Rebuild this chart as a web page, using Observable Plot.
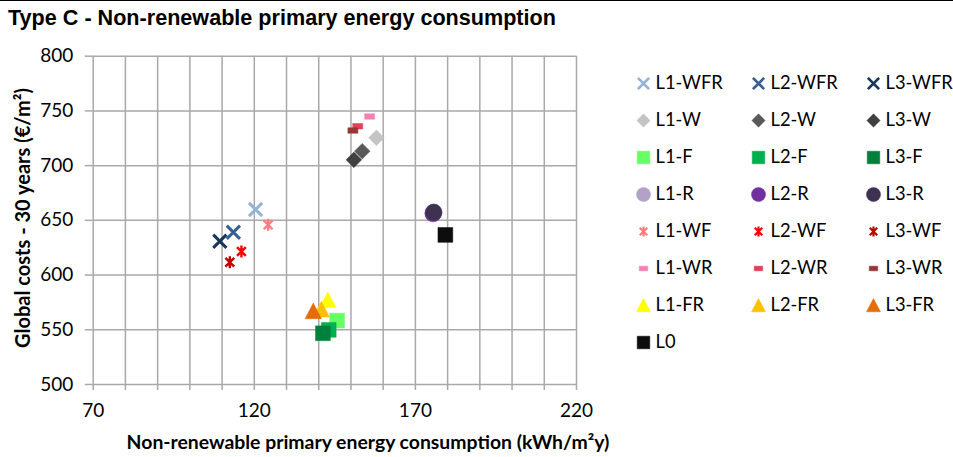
<!DOCTYPE html>
<html>
<head>
<meta charset="utf-8">
<script src="https://cdn.jsdelivr.net/npm/d3@7"></script>
<script src="https://cdn.jsdelivr.net/npm/@observablehq/plot@0.6"></script>
<style>
  html, body { margin: 0; padding: 0; background: #fff; }
  body { width: 953px; height: 457px; position: relative; overflow: hidden; font-family: Lato, "Noto Sans", sans-serif; }
  #topline { position: absolute; left: 0; top: 0; width: 953px; height: 1px; background: #000; }
  #title { position: absolute; left: 8px; top: 5px; font-family: "Liberation Sans", Arial, sans-serif; font-weight: bold; font-size: 21.6px; color: #000; white-space: nowrap; }
  #chart { position: absolute; left: 0; top: 32px; }
  #legend { position: absolute; left: 600px; top: 60px; }
  .axis-title { position: absolute; font-family: Lato, sans-serif; font-weight: bold; font-size: 19.4px; color: #000; white-space: nowrap; }
  #ytitle { left: 21.7px; top: 218px; transform: translate(-50%, -50%) rotate(-90deg); font-size: 20px; }
  #xtitle { left: 368px; top: 441px; transform: translate(-50%, -50%); }
</style>
</head>
<body>
<div id="topline"></div>
<div id="title">Type C - Non-renewable primary energy consumption</div>
<div id="chart"></div>
<div id="legend"></div>
<div id="ytitle" class="axis-title">Global costs - 30 years (€/m²)</div>
<div id="xtitle" class="axis-title">Non-renewable primary energy consumption (kWh/m²y)</div>
<script>
// ---- data ----
const seriesNames = ["L1-WFR","L2-WFR","L3-WFR","L1-W","L2-W","L3-W","L1-F","L2-F","L3-F","L1-R","L2-R","L3-R","L1-WF","L2-WF","L3-WF","L1-WR","L2-WR","L3-WR","L1-FR","L2-FR","L3-FR","L0"];
const energy = [120.4,113.5,109.3, 157.9,153.5,150.9, 145.7,143.1,141.3, 175.6,175.5,175.7, 124.3,116.0,112.4, 155.8,152.1,150.6, 142.8,140.8,138.3, 179.3];
const globalCost = [659.9,639.1,630.9, 725.4,713.2,705.3, 558.4,549.9,546.8, 657.0,656.2,657.4, 645.9,621.5,611.7, 744.9,736.0,732.1, 577.1,568.5,566.9, 636.7];
const seriesColors = ["#95B3D7","#376092","#17375E", "#C4C4C4","#595959","#404040", "#66FF66","#00B050","#00803C", "#B3A2C7","#7030A0","#3F3151", "#FF7C80","#FF0000","#C00000", "#F282B0","#E0405A","#953735", "#FFFF00","#FFC000","#E46C0A", "#0D0D0D"];
const seriesShapes = ["times","times","times","diamond","diamond","diamond","square","square","square","circle","circle","circle","asterisk","asterisk","asterisk","dash","dash","dash","triangle","triangle","triangle","square"];
const legendGroups = ["WFR","W","F","R","WF","WR","FR","L0"];
const xTickValues = [70,120,170,220];
const yTickValues = [500,550,600,650,700,750,800];

// ---- symbols ----
function sym(fn){ return { draw(ctx, size){ const r = Math.sqrt(size/Math.PI); fn(ctx, r); } }; }
const symbols = {
  times: sym((c,r)=>{ c.moveTo(-r,-r); c.lineTo(r,r); c.moveTo(r,-r); c.lineTo(-r,r); }),
  diamond: sym((c,r)=>{ c.moveTo(0,-r); c.lineTo(r,0); c.lineTo(0,r); c.lineTo(-r,0); c.closePath(); }),
  square: sym((c,r)=>{ c.moveTo(-r,-r); c.lineTo(r,-r); c.lineTo(r,r); c.lineTo(-r,r); c.closePath(); }),
  circle: sym((c,r)=>{ c.moveTo(r,0); c.arc(0,0,r,0,2*Math.PI); }),
  triangle: sym((c,r)=>{ c.moveTo(0,-r); c.lineTo(r,r*0.9); c.lineTo(-r,r*0.9); c.closePath(); }),
  asterisk: sym((c,r)=>{ const a=r*0.85; c.moveTo(-a,-a); c.lineTo(a,a); c.moveTo(a,-a); c.lineTo(-a,a); c.moveTo(0,-r*1.15); c.lineTo(0,r*1.15); }),
  dash: sym((c,r)=>{ const h=r*0.55; c.moveTo(-r,-h); c.lineTo(r,-h); c.lineTo(r,h); c.lineTo(-r,h); c.closePath(); })
};
const shapeStyle = {
  times:    {r: 6.6, stroked: true, sw: 3},
  diamond:  {r: 7.8},
  square:   {r: 7.4},
  circle:   {r: 8.3},
  triangle: {r: 8.2},
  asterisk: {r: 5.2, stroked: true, sw: 2.4},
  dash:     {r: 5}
};

const rows = seriesNames.map((name, i) => {
  const m = name.match(/^L(\d)(?:-(.*))?$/);
  const level = +m[1];
  const group = m[2] || "L0";
  return {name, x: energy[i], y: globalCost[i], color: seriesColors[i], shape: seriesShapes[i],
          col: level === 0 ? 0 : level - 1, row: legendGroups.indexOf(group)};
});

function dotMark(d, xKey, yKey, scaleR) {
  const st = shapeStyle[d.shape];
  return Plot.dot([d], {
    x: xKey, y: yKey,
    symbol: symbols[d.shape],
    r: st.r * scaleR,
    fill: st.stroked ? "none" : d.color,
    stroke: d.color,
    strokeWidth: st.stroked ? st.sw * (scaleR < 1 ? 0.9 : 1) : 0.5,
    strokeLinecap: "butt"
  });
}

const gridColor = "#a9a9a9";
const W = 953, H = 425;
const chart = Plot.plot({
  width: W, height: H,
  marginLeft: 92.7, marginRight: W - 576, marginTop: 23.7, marginBottom: H - 352,
  style: {fontFamily: "Lato, sans-serif", background: "white", color: "#000"},
  x: {domain: [70, 220]},
  y: {domain: [500, 800]},
  marks: [
    Plot.ruleX(d3.range(70, 221, 10), {stroke: gridColor, strokeWidth: 1.5}),
    Plot.ruleY(yTickValues, {stroke: gridColor, strokeWidth: 1.5}),
    Plot.axisX({ticks: d3.range(70, 221, 10), tickSize: 6, tickFormat: () => "", stroke: gridColor, strokeWidth: 1.5, label: null}),
    Plot.axisX({ticks: xTickValues, tickSize: 0, tickPadding: 19, fontSize: 19, fill: "#000", label: null}),
    Plot.axisY({ticks: yTickValues, tickSize: 8, tickPadding: 12, fontSize: 19, stroke: gridColor, strokeWidth: 1.5, fill: "#000", label: null}),
    ...rows.map(d => dotMark(d, "x", "y", 1))
  ]
});
document.getElementById("chart").appendChild(chart);

const legend = Plot.plot({
  width: 353, height: 304,
  margin: 0,
  style: {fontFamily: "Lato, sans-serif", background: "transparent", color: "#000"},
  x: {type: "point", domain: [0, 1, 2], range: [43.3, 273.3], padding: 0, axis: null},
  y: {type: "point", domain: d3.range(8), range: [20, 284], padding: 0, axis: null},
  marks: [
    ...rows.map(d => dotMark(d, "col", "row", 0.85)),
    Plot.text(rows, {x: "col", y: "row", text: "name", textAnchor: "start", dx: 12, fontSize: 18.3, fill: "#000"})
  ]
});
document.getElementById("legend").appendChild(legend);
</script>
</body>
</html>
